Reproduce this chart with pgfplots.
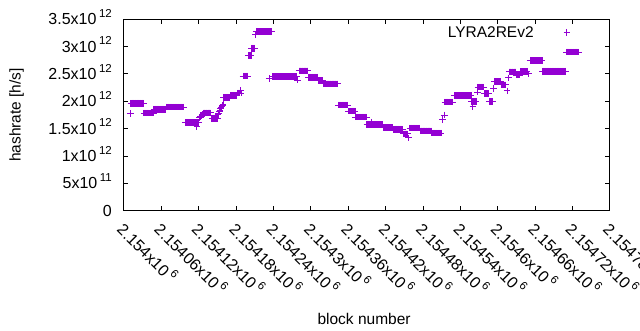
\documentclass[border=0pt]{standalone}
\usepackage{pgfplots}
\pgfplotsset{compat=1.18}
\usepackage{fontspec}
\setmainfont{Liberation Sans}
\definecolor{plotpurple}{RGB}{148,0,211}
\newcommand{\sci}[2]{#1x10\kern2.5pt\smash{\raisebox{0.45em}{\fontsize{11.5}{11.5}\selectfont #2}}}
\begin{document}
\begin{tikzpicture}
\useasboundingbox (-124pt,-119.3pt) rectangle (516pt,210.7pt);
\begin{axis}[
  scale only axis, width=486pt, height=191.4pt,
  xmin=0, xmax=780, ymin=0, ymax=3.5,
  xtick={0,60,120,180,240,300,360,420,480,540,600,660,720,780},
  xticklabels={\sci{2.154}{6},\sci{2.15406}{6},\sci{2.15412}{6},\sci{2.15418}{6},\sci{2.15424}{6},\sci{2.1543}{6},\sci{2.15436}{6},\sci{2.15442}{6},\sci{2.15448}{6},\sci{2.15454}{6},\sci{2.1546}{6},\sci{2.15466}{6},\sci{2.15472}{6},\sci{2.15478}{6}},
  ytick={0,0.5,1,1.5,2,2.5,3,3.5},
  yticklabels={0,\sci{5}{11},\sci{1}{12},\sci{1.5}{12},\sci{2}{12},\sci{2.5}{12},\sci{3}{12},\sci{3.5}{12}},
  tick align=inside, major tick length=4.5pt,
  xtick pos=both, ytick pos=both,
  axis line style={line width=1pt},
  every tick/.style={black,line width=1pt},
  font=\fontsize{15.5}{18}\selectfont,
  ticklabel style={font=\fontsize{16}{18}\selectfont},
  yticklabel style={anchor=east, inner sep=0pt, xshift=-12pt},
  xticklabel shift=12pt,
  xticklabel style={inner sep=0pt, anchor=north west, rotate=-45},
  xlabel={block number},
  ylabel={hashrate [h/s]},
  xlabel style={at={(axis description cs:0.494,-0.568)}, anchor=center},
  ylabel style={at={(axis description cs:-0.2212,0.5)}, anchor=center},
  legend plot pos=right, legend cell align=right,
  legend style={draw=none, fill=none, inner sep=0pt, column sep=30pt,
    nodes={inner sep=0pt}, at={(rel axis cs:0.9187,0.93)}, anchor=east,
    font=\fontsize{15.5}{18}\selectfont},
]
\addplot[only marks, mark=+, mark size=3.3pt, color=plotpurple, mark options={line width=1pt}] coordinates {
(10,1.78)
(11,1.965)(12,1.965)(13,1.965)(14,1.965)(15,1.965)(16,1.965)(17,1.965)(18,1.965)(19,1.965)(20,1.965)(21,1.965)(22,1.965)(23,1.965)(24,1.965)(25,1.965)(26,1.965)(27,1.965)(28,1.965)(29,1.965)(30,1.965)(31,1.965)
(32,1.785)(33,1.785)(34,1.785)(35,1.785)(36,1.785)(37,1.785)(38,1.785)(39,1.785)(40,1.785)(41,1.785)(42,1.785)(43,1.785)(44,1.785)(45,1.785)(46,1.785)(47,1.785)
(48,1.855)(49,1.855)(50,1.855)(51,1.855)(52,1.855)(53,1.855)(54,1.855)(55,1.855)(56,1.855)(57,1.855)(58,1.855)(59,1.855)(60,1.855)(61,1.855)(62,1.855)(63,1.855)(64,1.855)(65,1.855)(66,1.855)(67,1.855)
(68,1.895)(69,1.895)(70,1.895)(71,1.895)(72,1.895)(73,1.895)(74,1.895)(75,1.895)(76,1.895)(77,1.895)(78,1.895)(79,1.895)(80,1.895)(81,1.895)(82,1.895)(83,1.895)(84,1.895)(85,1.895)(86,1.895)(87,1.895)(88,1.895)(89,1.895)(90,1.895)(91,1.895)(92,1.895)(93,1.895)(94,1.895)(95,1.895)(96,1.895)
(98,1.615)(99,1.615)(100,1.615)(101,1.615)(102,1.615)(103,1.615)(104,1.615)(105,1.615)(106,1.615)(107,1.615)(108,1.615)(109,1.615)(110,1.615)(111,1.615)(112,1.615)(113,1.615)(114,1.615)(115,1.615)(116,1.615)(117,1.54)(118,1.615)(119,1.615)(120,1.615)
(121,1.70)(122,1.71)(123,1.72)(124,1.73)(125,1.75)(126,1.755)(127,1.76)
(128,1.79)(129,1.79)(130,1.79)(131,1.79)(132,1.79)(133,1.79)(134,1.79)(135,1.79)(136,1.79)(137,1.79)(138,1.79)(139,1.79)
(141,1.69)(142,1.69)(143,1.69)(144,1.69)(145,1.69)(146,1.69)(147,1.69)(148,1.69)(149,1.69)(150,1.69)
(151,1.76)(152,1.785)(153,1.81)(154,1.835)(155,1.86)(156,1.88)(157,1.90)(158,1.92)(159,1.94)
(160,2.07)(161,2.07)(162,2.07)(163,2.07)(164,2.07)(165,2.07)(166,2.07)(167,2.07)(168,2.07)(169,2.07)(170,2.07)
(171,2.11)(172,2.11)(173,2.11)(174,2.11)(175,2.11)(176,2.11)(177,2.11)(178,2.11)(179,2.11)(180,2.11)(181,2.11)
(182,2.15)(183,2.15)(184,2.15)(185,2.15)(186,2.15)(187,2.20)(188,2.15)
(191,2.46)(192,2.46)(193,2.46)(194,2.46)(195,2.46)(196,2.46)(197,2.46)(198,2.46)(199,2.46)
(200,2.84)(201,2.84)(202,2.84)(203,2.84)(204,2.84)
(205,2.97)(206,2.97)(207,2.97)(208,2.97)(209,2.97)(210,2.97)(211,3.22)
(212,3.275)(213,3.275)(214,3.275)(215,3.275)(216,3.275)(217,3.275)(218,3.275)(219,3.275)(220,3.275)(221,3.275)(222,3.275)(223,3.275)(224,3.275)(225,3.275)(226,3.275)(227,3.275)(228,3.275)(229,3.275)(230,3.275)(231,3.275)(232,3.275)(233,3.275)(234,3.275)(235,3.275)(236,3.275)(237,3.275)
(233,2.42)
(238,2.455)(239,2.455)(240,2.455)(241,2.455)(242,2.455)(243,2.455)(244,2.455)(245,2.455)(246,2.455)(247,2.455)(248,2.455)(249,2.455)(250,2.455)(251,2.455)(252,2.455)(253,2.455)(254,2.455)(255,2.455)(256,2.455)(257,2.455)(258,2.455)(259,2.455)(260,2.455)(261,2.455)(262,2.455)(263,2.455)(264,2.455)(265,2.455)(266,2.455)(267,2.455)(268,2.455)(269,2.455)(270,2.455)(271,2.455)(272,2.455)(273,2.455)(274,2.455)(275,2.455)(276,2.455)(277,2.455)
(278,2.39)
(281,2.555)(282,2.555)(283,2.555)(284,2.555)(285,2.555)(286,2.555)(287,2.555)(288,2.555)(289,2.555)(290,2.555)(291,2.555)(292,2.555)(293,2.555)(294,2.555)(295,2.555)
(296,2.44)(297,2.44)(298,2.44)(299,2.44)(300,2.44)(301,2.44)(302,2.44)(303,2.44)(304,2.44)(305,2.44)(306,2.44)(307,2.44)(308,2.44)(309,2.44)(310,2.44)(311,2.44)
(312,2.38)(313,2.38)(314,2.38)(315,2.38)(316,2.38)(317,2.38)(318,2.38)(319,2.38)
(320,2.317)(321,2.317)(322,2.317)(323,2.317)(324,2.317)(325,2.317)(326,2.317)(327,2.317)(328,2.317)(329,2.317)(330,2.317)(331,2.317)(332,2.317)(333,2.317)(334,2.317)(335,2.317)(336,2.317)(337,2.317)(338,2.317)(339,2.317)(340,2.317)(341,2.317)(342,2.317)(343,2.317)
(344,1.93)(345,1.93)(346,1.93)(347,1.93)(348,1.93)(349,1.93)(350,1.93)(351,1.93)(352,1.93)(353,1.93)(354,1.93)(355,1.93)(356,1.93)(357,1.93)(358,1.93)(359,1.93)
(360,1.82)(361,1.82)(362,1.82)(363,1.82)(364,1.82)(365,1.82)(366,1.82)(367,1.82)(368,1.82)(369,1.82)(370,1.82)(371,1.82)
(372,1.71)(373,1.71)(374,1.71)(375,1.71)(376,1.71)(377,1.71)(378,1.71)(379,1.71)(380,1.71)(381,1.71)(382,1.71)(383,1.71)(384,1.71)(385,1.71)(386,1.71)(387,1.71)(388,1.71)(389,1.71)
(390,1.58)(391,1.58)(392,1.58)(393,1.58)(394,1.58)(395,1.58)(396,1.58)(397,1.58)(398,1.62)(399,1.58)(400,1.58)(401,1.58)(402,1.58)(403,1.58)(404,1.58)(405,1.58)(406,1.58)(407,1.58)(408,1.58)(409,1.58)(410,1.58)(411,1.58)(412,1.58)(413,1.58)(414,1.58)(415,1.58)
(416,1.52)(417,1.52)(418,1.52)(419,1.52)(420,1.52)(421,1.52)(422,1.52)(423,1.52)(424,1.52)(425,1.52)(426,1.52)(427,1.52)(428,1.52)(429,1.52)(430,1.52)(431,1.52)
(432,1.49)(433,1.49)(434,1.49)(435,1.49)(436,1.49)(437,1.49)(438,1.49)(439,1.49)(440,1.49)(441,1.49)(442,1.49)(443,1.49)(444,1.49)(445,1.49)(446,1.49)(447,1.49)
(448,1.405)(449,1.405)(450,1.405)(451,1.405)(452,1.405)(453,1.405)(454,1.405)(455,1.405)(457,1.33)
(459,1.51)(460,1.51)(461,1.51)(462,1.51)(463,1.51)(464,1.51)(465,1.51)(466,1.51)(467,1.51)(468,1.51)(469,1.51)(470,1.51)(471,1.51)(472,1.51)(473,1.51)(474,1.51)(475,1.51)
(476,1.46)(477,1.46)(478,1.46)(479,1.46)(480,1.46)(481,1.46)(482,1.46)(483,1.46)(484,1.46)(485,1.46)(486,1.46)(487,1.46)(488,1.46)(489,1.46)(490,1.46)(491,1.46)(492,1.46)(493,1.46)
(494,1.42)(495,1.42)(496,1.42)(497,1.42)(498,1.42)(499,1.42)(500,1.42)(501,1.42)(502,1.42)(503,1.42)(504,1.42)(505,1.42)(506,1.42)(507,1.42)(508,1.42)(509,1.42)
(511,1.67)(514,1.75)
(515,1.985)(516,1.985)(517,1.985)(518,1.985)(519,1.985)(520,1.985)(521,1.985)(522,1.985)(523,1.985)(524,1.985)(525,1.985)(526,1.985)(527,1.985)
(530,2.11)(531,2.11)(532,2.11)(533,2.11)(534,2.11)(535,2.11)(536,2.11)(537,2.11)(538,2.11)(539,2.11)(540,2.11)(541,2.11)(542,2.11)(543,2.11)(544,2.11)(545,2.11)(546,2.11)(547,2.11)(548,2.11)(549,2.11)(550,2.11)(551,2.11)(552,2.11)(553,2.11)(554,2.11)(555,2.11)(556,2.11)(557,2.11)
(558,2.00)(559,2.00)(560,1.90)(561,2.00)(562,2.00)(563,2.00)(564,2.00)(565,2.00)
(567,2.17)
(568,2.26)(569,2.26)(570,2.26)(571,2.26)(572,2.26)(573,2.26)(574,2.26)(575,2.26)(576,2.26)(577,2.26)
(578,2.14)(579,2.14)(580,2.14)(581,2.14)(582,2.14)(583,2.14)(584,2.14)(585,2.14)
(586,2.00)(587,2.00)(588,2.00)(589,2.00)(590,2.00)(591,2.00)
(593,2.24)
(594,2.365)(595,2.365)(596,2.365)(597,2.365)(598,2.365)(599,2.365)(600,2.365)(601,2.365)(602,2.365)(603,2.365)(604,2.365)(605,2.365)
(606,2.30)(607,2.30)(608,2.30)(609,2.30)(610,2.30)(611,2.30)(612,2.30)(613,2.30)
(615,2.19)(617,2.43)
(618,2.54)(619,2.54)(620,2.54)(621,2.54)(622,2.54)(623,2.54)(624,2.54)(625,2.54)(626,2.54)(627,2.54)(628,2.54)(629,2.54)
(630,2.48)(631,2.48)(632,2.48)(633,2.48)(634,2.48)(635,2.48)
(636,2.545)(637,2.545)(638,2.545)(639,2.545)(640,2.545)(641,2.545)(642,2.545)(643,2.545)(644,2.545)(645,2.545)(646,2.545)(647,2.545)
(650,2.50)
(652,2.745)(653,2.745)(654,2.745)(655,2.745)(656,2.745)(657,2.745)(658,2.745)(659,2.745)(660,2.745)(661,2.745)(662,2.745)(663,2.745)(664,2.745)(665,2.745)(666,2.745)(667,2.745)(668,2.745)(669,2.745)(670,2.745)(671,2.745)
(672,2.55)(673,2.55)(674,2.55)(675,2.55)(676,2.55)(677,2.55)(678,2.55)(679,2.55)(680,2.55)(681,2.55)(682,2.55)(683,2.55)(684,2.55)(685,2.55)(686,2.55)(687,2.55)(688,2.55)(689,2.55)(690,2.55)(691,2.55)(692,2.55)(693,2.55)(694,2.55)(695,2.55)(696,2.55)(697,2.55)(698,2.55)(699,2.55)(700,2.55)(701,2.55)(702,2.55)(703,2.55)(704,2.55)(705,2.55)(706,2.55)(707,2.55)(708,2.55)(709,2.55)
(710,2.90)(711,2.90)(712,2.90)(713,2.90)(714,2.90)(715,2.90)(716,2.90)(717,2.90)(718,2.90)(719,2.90)(720,2.90)(721,2.90)(722,2.90)(723,2.90)(724,2.90)(725,2.90)(726,2.90)(727,2.90)(728,2.90)(729,2.90)
};
\addlegendentry{LYRA2REv2}
\end{axis}
\end{tikzpicture}
\end{document}
